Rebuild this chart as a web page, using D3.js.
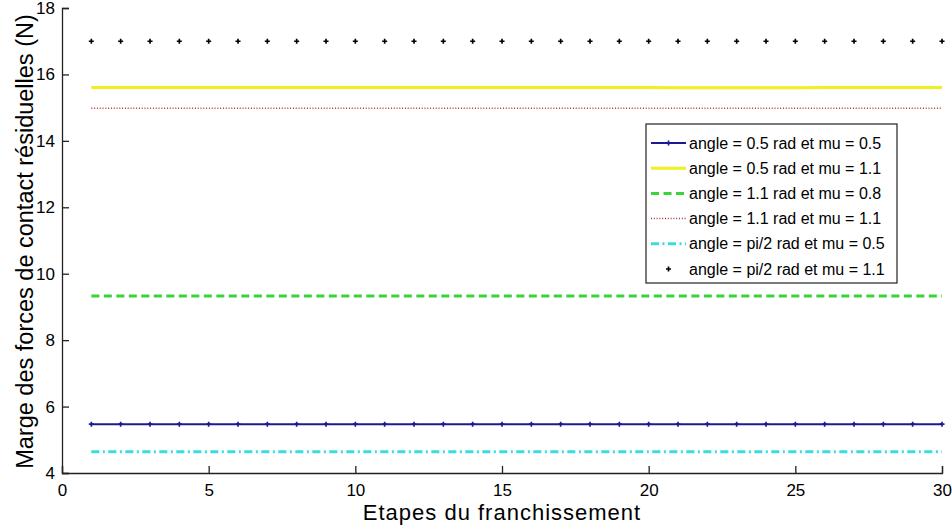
<!DOCTYPE html>
<head>
  <meta charset="utf-8">
  <title>Marge des forces de contact</title>
  <style>
    body { margin: 0; background: #fff; }
    text { font-family: "Liberation Sans", Arial, sans-serif; fill: #000; }
  </style>
</head>
<body>
<script src="https://d3js.org/d3.v7.min.js"></script>
<script>

    // Data (one value per step 1..30)
    var steps = [1,2,3,4,5,6,7,8,9,10,11,12,13,14,15,16,17,18,19,20,21,22,23,24,25,26,27,28,29,30];

    var a05mu05 = [5.47,5.47,5.47,5.47,5.47,5.47,5.47,5.47,5.47,5.47,5.47,5.47,5.47,5.47,5.47,
                   5.47,5.47,5.47,5.47,5.47,5.47,5.47,5.47,5.47,5.47,5.47,5.47,5.47,5.47,5.47];
    var a05mu11 = [15.61,15.61,15.61,15.61,15.61,15.61,15.61,15.61,15.61,15.61,15.61,15.61,15.61,15.61,15.61,
                   15.61,15.61,15.61,15.61,15.61,15.60,15.60,15.60,15.60,15.60,15.61,15.61,15.61,15.61,15.61];
    var a11mu08 = [9.33,9.33,9.33,9.33,9.33,9.33,9.33,9.33,9.33,9.33,9.33,9.33,9.33,9.33,9.33,
                   9.33,9.33,9.33,9.33,9.33,9.33,9.33,9.33,9.33,9.33,9.33,9.33,9.33,9.33,9.33];
    var a11mu11 = [14.98,14.98,14.98,14.98,14.98,14.98,14.98,14.98,14.98,14.98,14.98,14.98,14.98,14.98,14.98,
                   14.98,14.98,14.98,14.98,14.98,14.98,14.98,14.98,14.98,14.98,14.98,14.98,14.98,14.98,14.98];
    var api2mu05 = [4.64,4.64,4.64,4.64,4.64,4.64,4.64,4.64,4.64,4.64,4.64,4.64,4.64,4.64,4.64,
                    4.64,4.64,4.64,4.64,4.64,4.64,4.64,4.64,4.64,4.64,4.64,4.64,4.64,4.64,4.64];
    var api2mu11 = [17.0,17.0,17.0,17.0,17.0,17.0,17.0,17.0,17.0,17.0,17.0,17.0,17.0,17.0,17.0,
                    17.0,17.0,17.0,17.0,17.0,17.0,17.0,17.0,17.0,17.0,17.0,17.0,17.0,17.0,17.0];

    var xTicks = [0,5,10,15,20,25,30];
    var yTicks = [4,6,8,10,12,14,16,18];

    var seriesNames = [
      "angle = 0.5 rad et mu = 0.5",
      "angle = 0.5 rad et mu = 1.1",
      "angle = 1.1 rad et mu = 0.8",
      "angle = 1.1 rad et mu = 1.1",
      "angle = pi/2 rad et mu = 0.5",
      "angle = pi/2 rad et mu = 1.1"
    ];

    var series = [
      { name: seriesNames[0], values: a05mu05, color: "#1b1b8f", dash: null, width: 2, line: true, marker: true },
      { name: seriesNames[1], values: a05mu11, color: "#f0f01e", dash: null, width: 3, line: true, marker: false },
      { name: seriesNames[2], values: a11mu08, color: "#3ad43a", dash: "8,4.5", width: 3, line: true, marker: false },
      { name: seriesNames[3], values: a11mu11, color: "#a83a3a", dash: "1,1.8", width: 1.5, line: true, marker: false },
      { name: seriesNames[4], values: api2mu05, color: "#3adcdc", dash: "8,3.5,2,3.5", width: 3, line: true, marker: false },
      { name: seriesNames[5], values: api2mu11, color: "#000", dash: null, width: 0, line: false, marker: true }
    ];

    var W = 952, H = 532;
    var margin = { top: 8, right: 10, bottom: 59, left: 62 },
        width = 942 - margin.left,
        height = 473 - margin.top;

    var svg = d3.select("body").append("svg")
        .attr("width", W)
        .attr("height", H);

    var g = svg.append("g")
        .attr("transform", "translate(" + margin.left + "," + margin.top + ")");

    var x = d3.scaleLinear().domain([0, 30]).range([0, width]);
    var y = d3.scaleLinear().domain([4, 18]).range([height, 0]);

    // axes (inward ticks, no box)
    var xAxis = g.append("g")
        .attr("transform", "translate(0," + height + ")")
        .call(d3.axisBottom(x).tickValues(xTicks).tickSize(-7).tickPadding(11));
    var yAxis = g.append("g")
        .call(d3.axisLeft(y).tickValues(yTicks).tickSize(-7).tickPadding(7));

    [xAxis, yAxis].forEach(function(ax) {
      ax.select(".domain").attr("stroke", "#222").attr("stroke-width", 1.3);
      ax.selectAll(".tick line").attr("stroke", "#222").attr("stroke-width", 1.3);
      ax.selectAll(".tick text")
        .style("font-family", "'Liberation Sans', Arial, sans-serif")
        .style("font-size", "17px")
        .attr("fill", "#000");
    });

    var line = d3.line()
        .x(function(d, i) { return x(steps[i]); })
        .y(function(d) { return y(d); });

    var cross = d3.symbol().type(d3.symbolCross).size(14);

    series.forEach(function(s) {
      if (s.line) {
        g.append("path")
          .datum(s.values)
          .attr("fill", "none")
          .attr("stroke", s.color)
          .attr("stroke-width", s.width)
          .attr("stroke-dasharray", s.dash)
          .attr("d", line);
      }
      if (s.marker) {
        g.selectAll(null)
          .data(s.values)
          .enter().append("path")
          .attr("d", cross)
          .attr("fill", s.color)
          .attr("transform", function(d, i) { return "translate(" + x(steps[i]) + "," + y(d) + ")"; });
      }
    });

    // axis titles
    svg.append("text")
      .attr("x", margin.left + width / 2)
      .attr("y", 520)
      .attr("text-anchor", "middle")
      .style("font-size", "22px")
      .style("letter-spacing", "1px")
      .text("Etapes du franchissement");

    svg.append("text")
      .attr("transform", "translate(33," + (margin.top + height / 2 + 1) + ") rotate(-90)")
      .attr("text-anchor", "middle")
      .style("font-size", "23.5px")
      .text("Marge des forces de contact résiduelles (N)");

    // legend
    var leg = svg.append("g").attr("transform", "translate(646,124)");
    leg.append("rect")
      .attr("width", 251)
      .attr("height", 159)
      .attr("fill", "#fff")
      .attr("stroke", "#222")
      .attr("stroke-width", 1.2);

    series.forEach(function(s, i) {
      var row = leg.append("g").attr("transform", "translate(0," + (19 + i * 25.2) + ")");
      if (s.line) {
        row.append("line")
          .attr("x1", 5).attr("x2", 40)
          .attr("stroke", s.color)
          .attr("stroke-width", s.width)
          .attr("stroke-dasharray", s.dash);
      }
      if (s.marker) {
        row.append("path").attr("d", cross).attr("fill", s.color)
          .attr("transform", "translate(22.5,0)");
      }
      row.append("text")
        .attr("x", 43)
        .attr("dy", "0.35em")
        .style("font-size", "16px")
        .text(s.name);
    });

</script>
</body>
